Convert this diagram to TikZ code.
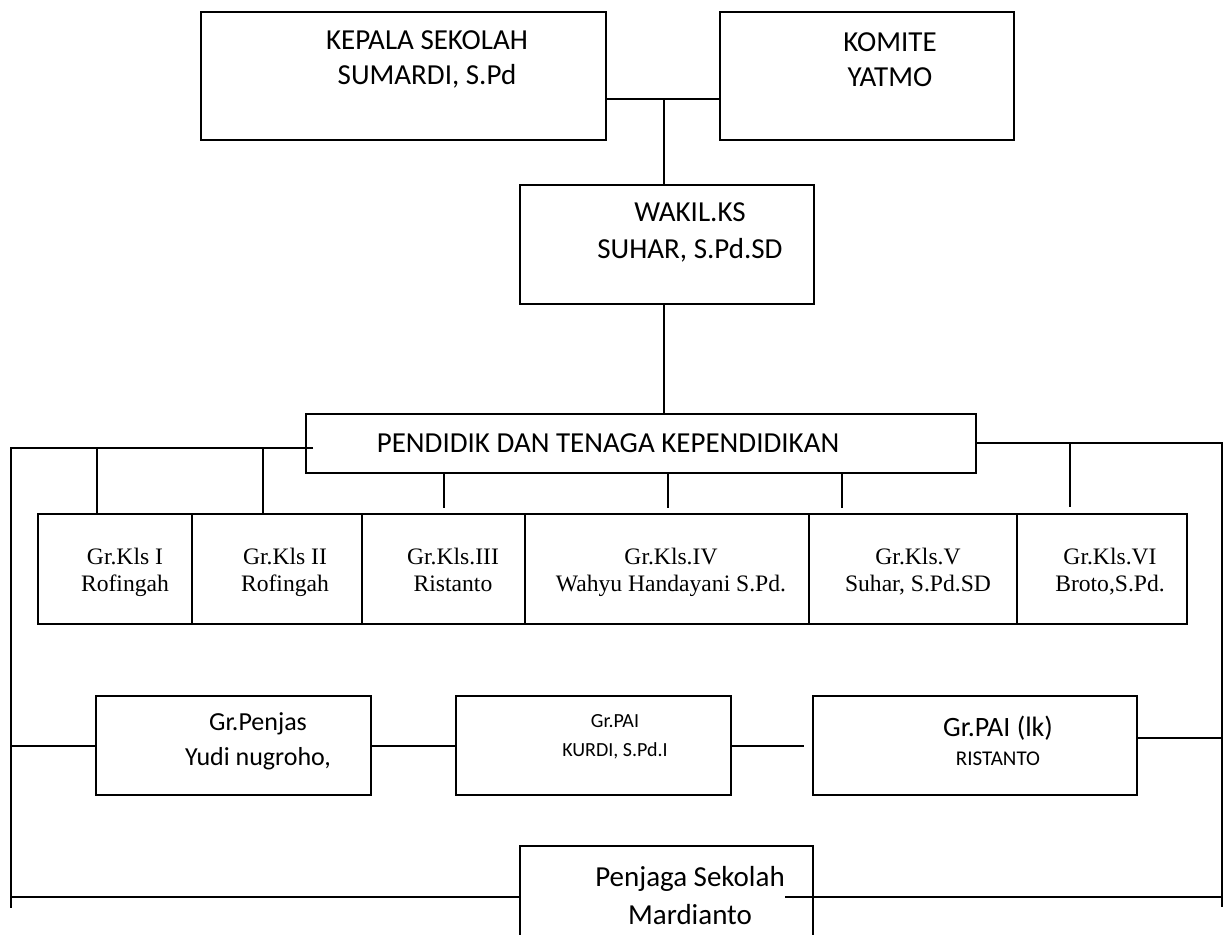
\documentclass[tikz,border=0pt]{standalone}
\usepackage{fontspec}
\setmainfont{Liberation Serif}
\newfontfamily\calibri{Carlito}

\begin{document}
\begin{tikzpicture}[x=0.5pt,y=-0.5pt,line width=1pt]
    \tikzstyle{box}=[draw,rectangle,inner sep=0pt]
    \tikzstyle{teks}=[inner sep=0pt,align=center]
    \tikzstyle{kls}=[inner sep=0pt,align=center,font=\fontsize{11.8}{13.5}\selectfont]

    \useasboundingbox (0,0) rectangle (1225,935);
    \clip (0,0) rectangle (1225,935);

    % Draw the top boxes
    \node[box,minimum width=202.5pt,minimum height=64pt] (kepala) at (403.5,76) {};
    \node[box,minimum width=147pt,minimum height=64pt] (komite) at (867,76) {};
    \node[box,minimum width=147pt,minimum height=59.5pt] (wakil) at (667,244.5) {};
    \node[box,minimum width=335pt,minimum height=29.5pt] (pendidik) at (641,443.5) {};

    \node[teks,font=\calibri\fontsize{14.5}{17.5}\selectfont] (kepala-txt) at (427,59.5) {KEPALA SEKOLAH\\SUMARDI, S.Pd};
    \node[teks,font=\calibri\fontsize{14.5}{17.5}\selectfont] (komite-txt) at (890,60) {KOMITE\\YATMO};
    \node[teks,font=\calibri\fontsize{14.5}{18.5}\selectfont] (wakil-txt) at (690,232) {WAKIL.KS\\SUHAR, S.Pd.SD};
    \node[teks,font=\calibri\fontsize{14.5}{17.5}\selectfont] (pendidik-txt) at (608,443) {PENDIDIK DAN TENAGA KEPENDIDIKAN};

    % Draw the class teachers row
    \foreach \i/\a/\b in {1/38/192,2/192/362,3/362/525,4/525/809,5/809/1017,6/1017/1187} {
        \pgfmathsetmacro{\w}{(\b-\a)/2}
        \node[box,minimum width=\w pt,minimum height=55pt] (kls-\i) at ({(\a+\b)/2},569) {};
    }
    \foreach \i/\x/\guru/\nama in {1/125/{Gr.Kls I}/{Rofingah},
                                   2/285/{Gr.Kls II}/{Rofingah},
                                   3/453/{Gr.Kls.III}/{Ristanto},
                                   4/671/{Gr.Kls.IV}/{Wahyu Handayani S.Pd.},
                                   5/918/{Gr.Kls.V}/{Suhar, S.Pd.SD},
                                   6/1110/{Gr.Kls.VI}/{Broto,S.Pd.}}
        \node[kls] (kls-\i-txt) at (\x,573) {\strut\guru\\\strut\nama};

    % Draw the second row and the school keeper
    \node[box,minimum width=137.5pt,minimum height=49.5pt] (penjas) at (233.5,745.5) {};
    \node[box,minimum width=137.5pt,minimum height=49.5pt] (pai) at (593.5,745.5) {};
    \node[box,minimum width=162pt,minimum height=49.5pt] (paik) at (975,745.5) {};
    \node[box,minimum width=146.5pt,minimum height=80pt] (penjaga) at (666.5,926) {};

    \node[teks,font=\calibri\fontsize{13}{17.5}\selectfont] (penjas-txt) at (258,741) {Gr.Penjas\\Yudi nugroho,};
    \node[teks,font=\calibri\fontsize{10}{14.5}\selectfont] (pai-txt) at (615,737) {Gr.PAI\\KURDI, S.Pd.I};
    \node[teks,font=\calibri\fontsize{14}{14.5}\selectfont] (paik-txt) at (998,741) {Gr.PAI (lk)\\{\fontsize{10.5}{12}\selectfont RISTANTO}};
    \node[teks,font=\calibri\fontsize{14.5}{19}\selectfont] (penjaga-txt) at (690,896) {Penjaga Sekolah\\Mardianto};

    % Connectors
    \coordinate (j1) at (664,99);
    \coordinate (kiri) at (11,448);
    \coordinate (kiri-bawah) at (11,908);
    \coordinate (kanan) at (1222,443);
    \coordinate (kanan-bawah) at (1222,907);
    \coordinate (p-kiri) at ([xshift=4pt]pendidik.west);

    \draw (kepala.east |- j1) -- (komite.west |- j1);
    \draw (j1) -- (j1 |- wakil.north);
    \draw (j1 |- wakil.south) -- (j1 |- pendidik.north);
    \draw (p-kiri |- kiri) -- (kiri) -- (kiri-bawah);
    \draw (pendidik.east |- kanan) -- (kanan) -- (kanan-bawah);

    \foreach \x in {97,263}
        \draw (\x,0 |- kiri) -- (\x,0 |- kls-1.north);
    \foreach \x in {444,668,842}
        \draw (\x,0 |- pendidik.south) -- (\x,508);
    \draw (1070,0 |- kanan) -- (1070,507);

    \draw (kiri |- penjas.west) -- (penjas.west);
    \draw (penjas.east) -- (pai.west);
    \draw (pai.east) -- ++(72,0);
    \draw (paik.east |- 0,738) -- (kanan |- 0,738);

    \draw (kiri |- 0,897) -- (penjaga.west |- 0,897);
    \draw (785,897) -- (kanan |- 0,897);
\end{tikzpicture}
\end{document}
